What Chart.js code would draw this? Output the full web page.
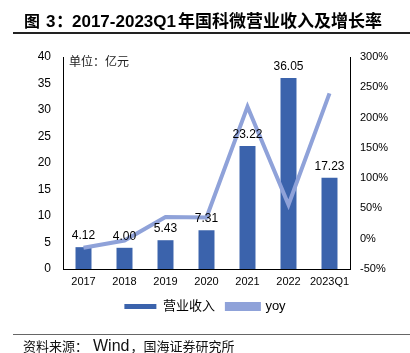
<!DOCTYPE html>
<html>
<head>
<meta charset="utf-8">
<script src="https://cdn.jsdelivr.net/npm/chart.js@4"></script>
<style>
  body { margin: 0; background: #fff; }
</style>
</head>
<body>
<canvas id="grafico" width="410" height="353"></canvas>
<script>
// dados
const anos = ['2017', '2018', '2019', '2020', '2021', '2022', '2023Q1'];
const receita = [4.12, 4.00, 5.43, 7.31, 23.22, 36.05, 17.23];
const yoy = [-0.15, -0.03, 0.36, 0.35, 2.18, 0.56, 2.40];
const ticksEsquerda = [0, 5, 10, 15, 20, 25, 30, 35, 40];
const ticksDireita = [-0.5, 0, 0.5, 1, 1.5, 2, 2.5, 3];

const fonte = '"Liberation Sans", "Noto Sans CJK SC", sans-serif';
const fonteCJK = '"Noto Sans CJK SC", sans-serif';

// textos fixos: título, linhas, unidade, fonte e rótulos das barras
const decoracao = {
    id: 'decoracao',
    afterDraw(chart) {
        const c = chart.ctx;
        c.save();
        c.fillStyle = '#000';
        c.textBaseline = 'alphabetic';
        c.textAlign = 'left';
        // título em partes para acertar larguras
        c.font = 'bold 16px ' + fonteCJK;
        c.fillText('图', 24, 27);
        c.font = 'bold 17px "Liberation Sans"';
        c.fillText('3', 46, 27);
        c.font = 'bold 17px ' + fonteCJK;
        c.fillText('：', 56, 27);
        c.font = 'bold 17px "Liberation Sans"';
        c.fillText('2017-2023Q1', 72, 27);
        c.font = 'bold 17px ' + fonteCJK;
        c.fillText('年国科微营业收入及增长率', 178, 27);

        c.strokeStyle = '#222';
        c.lineWidth = 2;
        c.beginPath(); c.moveTo(13, 33); c.lineTo(410, 33); c.stroke();
        c.strokeStyle = '#666';
        c.lineWidth = 1;
        c.beginPath(); c.moveTo(13, 334.5); c.lineTo(410, 334.5); c.stroke();

        c.fillStyle = '#111';
        c.font = '13px ' + fonteCJK;
        c.fillText('资料来源：', 23, 351);
        c.font = '16px "Liberation Sans"';
        c.fillText('Wind', 93, 351);
        const fim = 93 + c.measureText('Wind').width + 1;
        c.font = '13px ' + fonteCJK;
        c.fillText('，国海证券研究所', fim, 351);

        c.font = '12px ' + fonteCJK;
        c.fillStyle = '#222';
        c.fillText('单位：亿元', 69, 66);

        // rótulos em cima das barras
        const meta = chart.getDatasetMeta(0);
        c.font = '12px "Liberation Sans"';
        c.fillStyle = '#000';
        c.textAlign = 'center';
        meta.data.forEach((bar, i) => {
            c.fillText(receita[i].toFixed(2), bar.x, bar.y - 8);
        });
        c.restore();
    }
};

new Chart(document.getElementById('grafico'), {
    type: 'bar',
    data: {
        labels: anos,
        datasets: [{
            label: '营业收入',
            data: receita,
            backgroundColor: '#3b63ac',
            borderColor: '#3b63ac',
            categoryPercentage: 1,
            barPercentage: 0.39,
            yAxisID: 'y',
            order: 2
        }, {
            type: 'line',
            label: 'yoy',
            data: yoy,
            borderColor: '#8fa2d9',
            backgroundColor: '#8fa2d9',
            borderWidth: 4,
            pointRadius: 0,
            tension: 0,
            yAxisID: 'y1',
            order: 1
        }]
    },
    options: {
        responsive: false,
        animation: false,
        layout: { padding: { top: 57, left: 0, right: 0, bottom: 30 } },
        plugins: {
            legend: {
                position: 'bottom',
                labels: {
                    boxWidth: 32,
                    boxHeight: 5,
                    padding: 12,
                    color: '#000',
                    font: { family: fonte, size: 13 },
                    sort: (a, b) => a.datasetIndex - b.datasetIndex
                }
            },
            tooltip: { enabled: false }
        },
        scales: {
            x: {
                offset: true,
                grid: { display: false, drawTicks: false },
                border: { color: '#000', width: 1 },
                ticks: { color: '#000', padding: 6, maxRotation: 0, autoSkip: false, font: { family: fonte, size: 11 } },
                afterFit(s) { s.height = 19; }
            },
            y: {
                position: 'left',
                min: 0, max: 40,
                afterBuildTicks(s) { s.ticks = ticksEsquerda.map(v => ({ value: v })); },
                grid: { display: false, drawTicks: false },
                border: { color: '#000', width: 1 },
                ticks: { color: '#000', padding: 12, font: { family: fonte, size: 12 } },
                afterFit(s) { s.width = 63; }
            },
            y1: {
                position: 'right',
                min: -0.5, max: 3,
                afterBuildTicks(s) { s.ticks = ticksDireita.map(v => ({ value: v })); },
                grid: { display: false, drawTicks: false },
                border: { color: '#000', width: 1 },
                ticks: {
                    color: '#000', padding: 10,
                    font: { family: fonte, size: 11 },
                    callback: v => Math.round(v * 100) + '%'
                },
                afterFit(s) { s.width = 60; }
            }
        }
    },
    plugins: [decoracao]
});
</script>
</body>
</html>
